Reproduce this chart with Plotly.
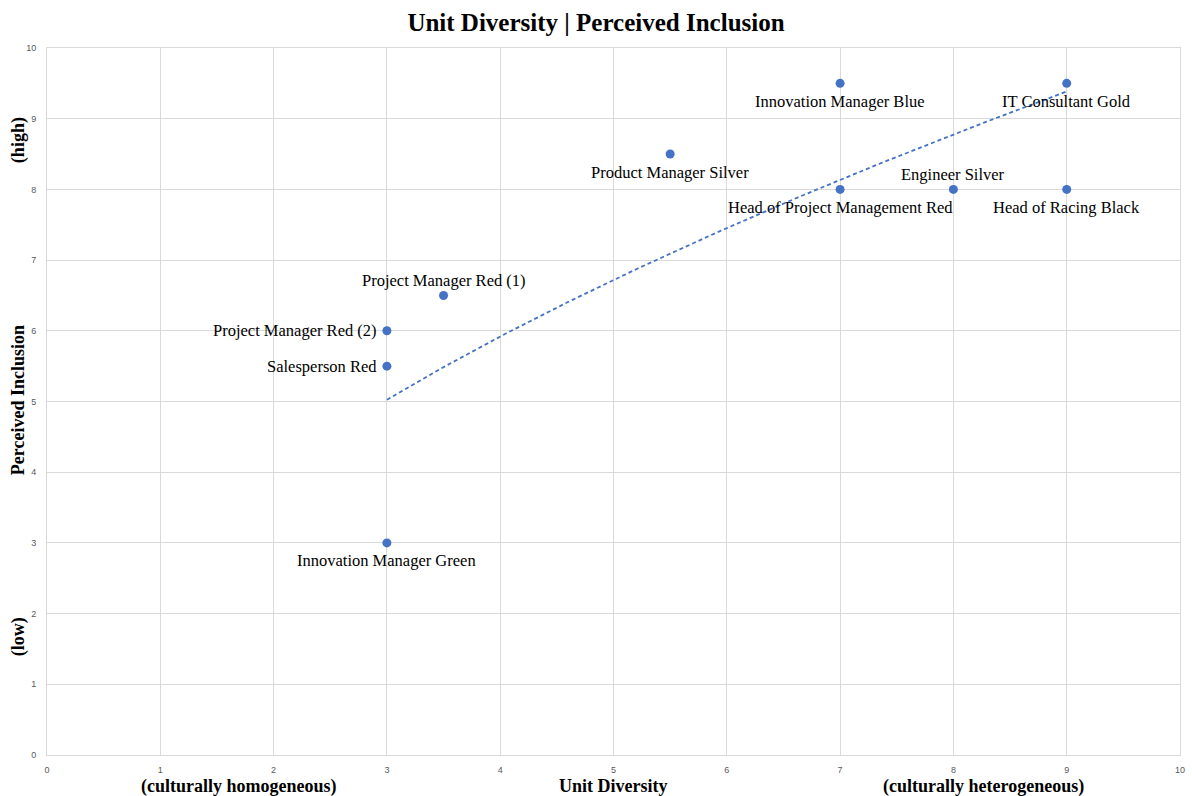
import numpy as np
import plotly.graph_objects as go

names = ["Innovation Manager Blue", "IT Consultant Gold", "Product Manager Silver",
         "Engineer Silver", "Head of Project Management Red", "Head of Racing Black",
         "Project Manager Red (1)", "Project Manager Red (2)", "Salesperson Red",
         "Innovation Manager Green"]
unit_diversity = [7, 9, 5.5, 8, 7, 9, 3.5, 3, 3, 3]
perceived_inclusion = [9.5, 9.5, 8.5, 8, 8, 8, 6.5, 6, 5.5, 3]
label_side = ["below", "below", "below", "above", "below", "below", "above",
              "left", "left", "below"]
ticks = list(range(0, 11))

BLUE = "#4472C4"
SERIF = "Liberation Serif, Times New Roman, serif"

# power trendline (Excel-style): ln y = ln a + b ln x
xa = np.array(unit_diversity, float)
ya = np.array(perceived_inclusion, float)
b, lna = np.polyfit(np.log(xa), np.log(ya), 1)
tx = np.linspace(xa.min(), xa.max(), 200)
ty = np.exp(lna) * tx ** b

fig = go.Figure()
fig.add_trace(go.Scatter(x=tx, y=ty, mode="lines",
                         line=dict(color=BLUE, width=1.8, dash="4px,3px"),
                         hoverinfo="skip", showlegend=False))
fig.add_trace(go.Scatter(x=unit_diversity, y=perceived_inclusion, mode="markers",
                         marker=dict(color=BLUE, size=9),
                         showlegend=False))

annots = []
for n, xv, yv, side in zip(names, unit_diversity, perceived_inclusion, label_side):
    a = dict(text=n, x=xv, y=yv, xref="x", yref="y", showarrow=False,
             font=dict(family=SERIF, size=16.5, color="#000"))
    if side == "below":
        a.update(yshift=-18, xanchor="center", yanchor="middle")
    elif side == "above":
        a.update(yshift=15, xanchor="center", yanchor="middle")
    else:
        a.update(xshift=-8, xanchor="right", yanchor="middle")
    annots.append(a)

axis_common = dict(range=[0, 10], tickvals=ticks, showgrid=True, gridcolor="#d9d9d9",
                   gridwidth=1, zeroline=False, showline=True, linecolor="#d9d9d9",
                   mirror=True, ticks="",
                   tickfont=dict(family="Liberation Sans, Arial, sans-serif", size=9, color="#595959"))
fig.update_xaxes(**axis_common, ticklabelstandoff=6)
fig.update_yaxes(**axis_common, ticklabelstandoff=8)

L, R, T, B = 47, 7, 48, 41
PW = 1192 - L - R
PH = 796 - T - B
axis_title_font = dict(family=SERIF, size=18, color="#000")
for txt, px in [("(culturally homogeneous)", 240), ("Unit Diversity", 615),
                ("(culturally heterogeneous)", 988)]:
    annots.append(dict(text="<b>" + txt + "</b>", x=(px - L) / PW, y=-31 / PH,
                       xref="paper", yref="paper", showarrow=False,
                       xanchor="center", yanchor="middle", font=axis_title_font))
for txt, py in [("(high)", 140), ("Perceived Inclusion", 400), ("(low)", 637)]:
    annots.append(dict(text="<b>" + txt + "</b>", x=-29 / PW, y=(755 - py) / PH,
                       textangle=-90, xref="paper", yref="paper", showarrow=False,
                       xanchor="center", yanchor="middle", font=axis_title_font))

fig.update_layout(
    width=1192, height=796,
    margin=dict(l=L, r=R, t=T, b=B),
    plot_bgcolor="white", paper_bgcolor="white",
    title=dict(text="<b>Unit Diversity | Perceived Inclusion</b>", x=0.5, xanchor="center",
               y=1 - 22 / 796, yanchor="middle",
               font=dict(family=SERIF, size=25, color="#000")),
    annotations=annots,
)

fig.write_html("out.html")
